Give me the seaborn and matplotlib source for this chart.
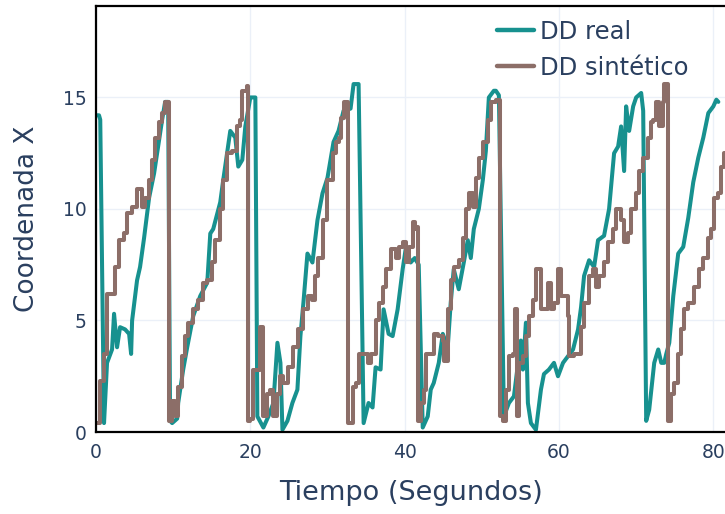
import numpy as np
import pandas as pd
import matplotlib
matplotlib.use("Agg")
import matplotlib.pyplot as plt
import seaborn as sns

# Series: time (s) and X coordinate
real_t = [0.00, 0.39, 0.55, 1.04, 1.43, 2.08, 2.34, 2.73, 3.12, 3.77, 4.29, 4.55, 4.68, 5.32, 5.71,
          6.23, 6.88, 7.53, 8.18, 8.57, 8.96, 9.35, 9.60, 9.87, 10.52, 10.65, 11.30, 11.82, 12.60,
          13.51, 14.42, 14.81, 15.19, 16.10, 16.49, 17.40, 18.05, 18.44, 18.96, 19.35, 20.00, 20.65,
          20.91, 21.69, 22.34, 22.99, 23.51, 23.90, 24.16, 24.81, 25.45, 26.10, 26.49, 26.88, 27.40,
          28.05, 28.70, 29.35, 30.00, 30.78, 31.43, 32.08, 32.99, 33.38, 34.03, 34.68, 35.32, 35.84,
          36.23, 36.88, 37.27, 37.92, 38.44, 39.09, 39.74, 40.13, 40.78, 41.30, 41.82, 42.34, 42.99,
          43.38, 43.77, 44.42, 44.94, 45.58, 45.97, 46.36, 47.01, 47.66, 48.18, 48.57, 48.96, 49.61,
          50.13, 50.52, 50.91, 51.56, 51.82, 52.21, 52.86, 53.51, 54.16, 55.06, 55.32, 55.71, 55.97,
          56.36, 57.01, 57.66, 58.05, 58.70, 59.35, 59.87, 60.52, 61.17, 61.82, 62.47, 62.86, 63.25,
          63.90, 64.55, 65.06, 65.84, 66.49, 67.14, 67.66, 68.05, 68.44, 68.70, 69.09, 69.61, 70.00,
          70.65, 70.91, 71.30, 71.69, 72.34, 72.86, 73.25, 73.64, 73.90, 74.29, 74.81, 75.45, 76.10,
          76.75, 77.40, 78.05, 78.70, 79.35, 80.00, 80.39, 80.65]
real_x = [14.2, 14.2, 14.0, 0.4, 3.1, 3.7, 5.3, 3.8, 4.7, 4.6, 4.4, 3.5, 5.0, 6.8, 7.4,
          8.7, 10.5, 11.6, 13.1, 14.0, 14.8, 14.8, 0.5, 0.4, 0.6, 1.3, 2.8, 3.8, 5.2,
          6.1, 6.7, 8.9, 9.1, 10.3, 11.3, 13.5, 13.2, 11.9, 12.2, 13.7, 15.0, 15.0,
          0.7, 0.2, 0.7, 1.3, 4.0, 3.1, 0.1, 0.5, 1.3, 1.9, 4.3, 5.8, 8.0,
          7.6, 9.5, 10.7, 11.4, 13.0, 13.5, 14.4, 14.5, 15.6, 15.6, 0.4, 1.3, 1.1,
          2.9, 2.8, 5.5, 4.4, 4.3, 5.5, 7.3, 8.2, 7.6, 7.8, 7.5, 0.2, 0.7,
          1.9, 2.2, 3.1, 4.4, 3.8, 5.8, 7.3, 6.4, 7.6, 8.6, 7.8, 9.1, 10.0,
          11.3, 12.6, 15.0, 15.3, 15.3, 15.1, 0.7, 1.3, 1.6, 4.1, 2.8, 4.9, 1.3,
          0.4, 0.1, 1.9, 2.6, 2.8, 3.1, 2.5, 3.1, 3.4, 3.7, 4.6, 5.6, 7.0,
          7.7, 7.4, 8.6, 8.8, 10.0, 12.5, 12.8, 13.7, 11.7, 14.6, 13.5, 14.6, 15.0,
          15.2, 14.4, 0.5, 1.0, 3.1, 3.7, 3.1, 3.1, 3.5, 4.0, 6.1, 8.0, 8.3,
          9.6, 11.2, 12.3, 13.2, 14.3, 14.6, 14.9, 14.8]

synth_t = [0.00, 0.13, 0.52, 1.04, 1.43, 2.08, 2.47, 2.99, 3.64, 4.03, 4.68, 5.32, 5.97, 6.36, 6.88,
           7.27, 7.66, 8.18, 8.57, 8.96, 9.35, 9.48, 9.87, 10.26, 10.52, 10.65, 11.17, 11.56, 11.95,
           12.60, 13.25, 13.90, 14.42, 15.06, 15.45, 16.10, 16.49, 17.01, 17.66, 18.31, 18.70, 18.96,
           19.61, 19.74, 20.00, 20.39, 21.30, 21.69, 22.21, 22.60, 22.99, 23.51, 23.90, 24.29, 24.94,
           25.58, 26.23, 26.88, 27.53, 28.05, 28.44, 28.83, 29.48, 30.00, 30.65, 31.04, 31.43, 31.69,
           32.08, 32.47, 32.60, 32.73, 33.25, 33.64, 34.03, 34.68, 35.19, 35.58, 36.23, 36.62, 37.14,
           37.53, 38.18, 38.83, 39.22, 39.74, 40.13, 40.52, 41.04, 41.30, 41.43, 41.69, 42.08, 42.47,
           42.73, 43.38, 43.77, 44.29, 44.94, 45.06, 45.58, 45.97, 46.36, 47.01, 47.53, 47.92, 48.31,
           48.83, 49.22, 49.61, 50.13, 50.78, 51.17, 51.82, 52.08, 52.34, 52.73, 53.12, 53.51, 54.03,
           54.29, 54.55, 54.81, 55.32, 55.71, 56.10, 56.62, 57.01, 57.40, 57.66, 58.05, 58.57, 58.96,
           59.35, 59.87, 60.26, 60.65, 61.17, 61.30, 61.95, 62.60, 62.86, 63.25, 63.90, 64.42, 64.81,
           65.19, 65.84, 66.36, 67.01, 67.40, 68.05, 68.44, 68.96, 69.35, 70.00, 70.39, 70.91, 71.56,
           71.95, 72.21, 72.60, 72.99, 73.51, 73.64, 74.03, 74.16, 74.55, 74.94, 75.45, 75.84, 76.23,
           76.75, 77.14, 77.53, 78.18, 78.70, 79.35, 79.74, 80.13, 80.65, 81.04, 81.43, 82.00]
synth_x = [0.4, 0.4, 2.3, 3.5, 6.2, 6.2, 7.4, 8.6, 8.9, 9.8, 10.1, 10.9, 10.1, 10.5, 11.3,
           12.2, 13.2, 13.9, 14.3, 14.8, 14.8, 0.5, 1.4, 0.7, 0.7, 2.0, 3.4, 4.3, 4.9,
           5.5, 5.9, 6.7, 6.8, 7.6, 8.6, 10.0, 11.3, 12.5, 12.6, 13.7, 14.0, 15.3,
           15.5, 0.5, 0.6, 2.8, 4.7, 0.7, 1.7, 1.9, 0.7, 1.7, 2.5, 2.2, 2.9,
           3.8, 4.6, 5.5, 6.1, 5.9, 7.0, 7.8, 9.5, 11.3, 12.5, 13.0, 13.2, 14.1,
           14.8, 14.8, 0.4, 0.4, 2.0, 2.2, 3.5, 3.5, 3.1, 3.5, 5.0, 5.8, 6.5,
           7.3, 8.2, 7.8, 8.3, 8.5, 7.6, 8.3, 9.4, 9.1, 9.2, 0.5, 1.3, 1.9,
           3.5, 3.5, 4.4, 4.3, 4.1, 3.2, 5.5, 6.8, 7.4, 7.7, 8.7, 10.0, 10.7,
           10.1, 11.4, 12.3, 13.0, 14.0, 14.8, 14.9, 14.9, 0.7, 0.5, 1.9, 3.4, 3.5,
           5.5, 0.7, 3.1, 3.4, 4.3, 5.2, 5.9, 7.3, 7.3, 5.5, 5.5, 6.7, 5.5,
           5.8, 7.3, 6.1, 6.1, 5.2, 3.4, 3.5, 3.5, 4.7, 5.8, 7.0, 7.3, 6.5,
           7.0, 7.6, 8.5, 9.1, 10.0, 9.5, 8.5, 8.9, 10.0, 10.7, 11.7, 12.3, 13.2,
           13.9, 14.0, 14.8, 13.7, 14.8, 15.6, 15.6, 0.5, 1.7, 2.2, 3.5, 4.6, 5.5,
           5.8, 5.8, 6.5, 7.3, 7.8, 8.7, 9.1, 10.5, 10.7, 11.9, 12.5, 13.0]

series_names = ["DD real", "DD sintético"]
series_colors = ["#17918f", "#8c6e68"]

x_ticks = [0, 20, 40, 60, 80]
y_ticks = [0, 5, 10, 15]
x_label = "Tiempo (Segundos)"
y_label = "Coordenada X"

real_df = pd.DataFrame({"t": real_t, "x": real_x, "serie": series_names[0]})
synth_df = pd.DataFrame({"t": synth_t, "x": synth_x, "serie": series_names[1]})

sns.set_theme(style="white")
plt.rcParams["font.family"] = ["DejaVu Sans"]
text_color = "#2a3f5f"

fig = plt.figure(figsize=(7.25, 5.14), dpi=100)
ax = fig.add_axes([96 / 725, 1 - 432 / 514, 1 - 96 / 725 + 0.002, (432 - 6) / 514])

# real trace as a plain polyline, synthetic trace as a sample-and-hold staircase
sns.lineplot(data=real_df, x="t", y="x", color=series_colors[0], label=series_names[0],
             estimator=None, sort=False, linewidth=2.9, ax=ax)
sns.lineplot(data=synth_df, x="t", y="x", color=series_colors[1], label=series_names[1],
             estimator=None, sort=False, linewidth=2.9, drawstyle="steps-post", ax=ax)

ax.set_xlim(0, 81.7)
ax.set_ylim(0, 19.1)
ax.set_xticks(x_ticks)
ax.set_yticks(y_ticks)
ax.grid(True, color="#ebf0f8", linewidth=1.0)
ax.set_axisbelow(True)

for side in ["left", "bottom", "top"]:
    ax.spines[side].set_color("black")
    ax.spines[side].set_linewidth(1.6)
ax.spines["right"].set_visible(False)

ax.tick_params(axis="both", length=0, labelsize=13.5, colors=text_color)
ax.tick_params(axis="x", pad=8)
ax.tick_params(axis="y", pad=7)
ax.set_xlabel(x_label, fontsize=19.5, color=text_color, labelpad=13)
ax.set_ylabel(y_label, fontsize=19, color=text_color, labelpad=16)

leg = ax.legend(loc="upper left", bbox_to_anchor=(487 / 725, 1 - 10 / 514),
                bbox_transform=fig.transFigure, frameon=False, fontsize=17.5,
                handlelength=1.55, handletextpad=0.25, labelspacing=0.5, borderaxespad=0)
for txt in leg.get_texts():
    txt.set_color(text_color)
for line in leg.get_lines():
    line.set_linewidth(3.2)
    line.set_drawstyle("default")

fig.savefig("out.png", dpi=100)
